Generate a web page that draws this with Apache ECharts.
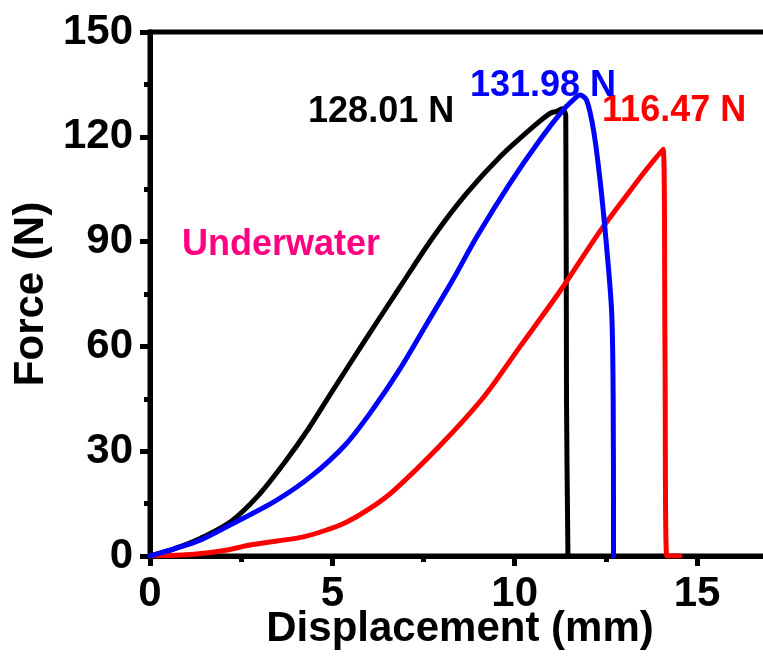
<!DOCTYPE html>
<html>
<head>
<meta charset="utf-8">
<script src="https://cdn.jsdelivr.net/npm/echarts@6/dist/echarts.min.js"></script>
<style>
  html, body { margin: 0; padding: 0; background: #fff; }
  #chart { width: 763px; height: 656px; }
</style>
</head>
<body>
<div id="chart"></div>
<script>
// displacement (mm) / force (N)
var blackX = [0, 0.7, 1.39, 2.22, 2.96, 3.70, 4.35, 5.0, 5.85, 6.86, 7.77, 8.68, 9.6, 10.51, 10.97, 11.15, 11.3, 11.40, 11.42, 11.46];
var blackF = [0, 2.2, 5.1, 9.9, 17.2, 26.9, 36.5, 47.2, 61.0, 77.1, 91.4, 103.8, 114.3, 122.9, 126.7, 127.3, 128.01, 126, 45, 0];

var blueX = [0, 0.7, 1.39, 2.22, 3.43, 4.44, 5.37, 6.11, 6.85, 7.59, 8.3, 8.96, 9.87, 10.69, 11.33, 11.6, 11.79, 11.97, 12.16, 12.34, 12.52, 12.66, 12.70, 12.71];
var blueF = [0, 2.2, 4.6, 9.0, 15.7, 23.0, 32.0, 42.0, 53.5, 66.5, 79.0, 91.4, 106.7, 119.1, 127.7, 130.5, 131.98, 130.5, 122, 107.6, 88.5, 69.5, 45.1, 0];

var redX = [0, 1.2, 2.0, 2.78, 4.17, 4.8, 5.37, 6.0, 6.67, 7.96, 9.15, 10.17, 11.22, 12.34, 13.16, 13.6, 14.07, 14.12, 14.17, 14.53];
var redF = [0, 0.5, 1.5, 3.2, 5.4, 7.3, 9.6, 13.4, 18.6, 31.7, 45.5, 60.3, 75.5, 93.0, 104.5, 110.5, 116.47, 60, 0, 0];

var xTicks = [0, 5, 10, 15];
var yTicks = [0, 30, 60, 90, 120, 150];

var font = 'Liberation Sans';

function pairs(xs, ys) {
  return xs.map(function (x, i) { return [x, ys[i]]; });
}
function peak(xs, ys) {
  var i = ys.indexOf(Math.max.apply(null, ys));
  return [xs[i], ys[i]];
}

function peakLabel(xs, ys, color, offset) {
  var p = peak(xs, ys);
  return {
    symbol: 'circle',
    symbolSize: 1,
    itemStyle: { color: 'rgba(0,0,0,0)' },
    data: [{ coord: p, value: p[1].toFixed(2) }],
    label: {
      show: true,
      position: 'inside',
      offset: offset,
      formatter: '{c} N',
      color: color,
      fontSize: 36,
      fontWeight: 'bold',
      fontFamily: font
    }
  };
}

var myChart = echarts.init(document.getElementById('chart'));
var option = {
  animation: false,
  backgroundColor: '#fff',
  grid: {
    left: 150, top: 32, width: 620, height: 524,
    outerBoundsMode: 'none',
    containLabel: false,
    show: true, borderColor: '#000', borderWidth: 5, backgroundColor: 'transparent'
  },
  xAxis: {
    type: 'value',
    min: 0, max: 17, interval: 5,
    name: 'Displacement (mm)',
    nameLocation: 'middle',
    nameGap: 52,
    nameMoveOverlap: false,
    nameTextStyle: { fontSize: 42, fontWeight: 'bold', fontFamily: font, color: '#000' },
    axisLine: { lineStyle: { color: '#000', width: 5 } },
    axisTick: { inside: false, length: 10, lineStyle: { width: 5 } },
    minorTick: { show: true, splitNumber: 2, length: 6, lineStyle: { color: '#000', width: 5 } },
    splitLine: { show: false },
    axisLabel: {
      margin: 17, fontSize: 42, fontWeight: 'bold', fontFamily: font, color: '#000',
      showMaxLabel: false,
      formatter: function (v) { return xTicks.indexOf(v) >= 0 ? String(v) : ''; }
    }
  },
  yAxis: {
    type: 'value',
    min: 0, max: 150, interval: 30,
    name: 'Force (N)',
    nameLocation: 'middle',
    nameGap: 98,
    nameMoveOverlap: false,
    nameTextStyle: { fontSize: 42, fontWeight: 'bold', fontFamily: font, color: '#000' },
    axisLine: { show: true, lineStyle: { color: '#000', width: 5 } },
    axisTick: { show: true, inside: false, length: 10, lineStyle: { width: 5 } },
    minorTick: { show: true, splitNumber: 2, length: 6, lineStyle: { color: '#000', width: 5 } },
    splitLine: { show: false },
    axisLabel: {
      margin: 17, fontSize: 42, fontWeight: 'bold', fontFamily: font, color: '#000',
      formatter: function (v) { return yTicks.indexOf(v) >= 0 ? String(v) : ''; }
    }
  },
  graphic: [{
    type: 'text',
    left: 182, top: 227,
    style: { text: 'Underwater', font: 'bold 36px "Liberation Sans"', fill: '#FF0080' }
  }],
  series: [
    {
      type: 'line', data: pairs(blackX, blackF), showSymbol: false, smooth: 0.3,
      lineStyle: { color: '#000', width: 5, join: 'round', cap: 'round' },
      markPoint: peakLabel(blackX, blackF, '#000', [-181, 3])
    },
    {
      type: 'line', data: pairs(redX, redF), showSymbol: false, smooth: 0.3,
      lineStyle: { color: '#FF0000', width: 5, join: 'round', cap: 'round' },
      markPoint: peakLabel(redX, redF, '#FF0000', [11, -38])
    },
    {
      type: 'line', data: pairs(blueX, blueF), showSymbol: false, smooth: 0.3,
      lineStyle: { color: '#0000FF', width: 5, join: 'round', cap: 'round' },
      markPoint: peakLabel(blueX, blueF, '#0000FF', [-37, -9])
    }
  ]
};
myChart.setOption(option);
window.onresize = function () { myChart.resize(); };
</script>
</body>
</html>
